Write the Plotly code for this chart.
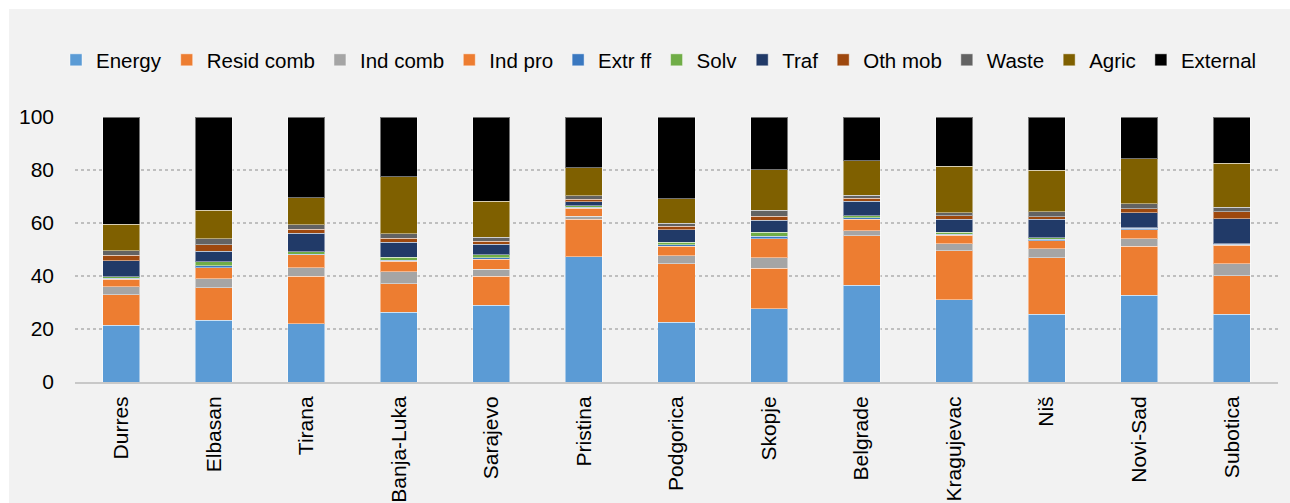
import plotly.graph_objects as go

cities = ["Durres", "Elbasan", "Tirana", "Banja-Luka", "Sarajevo", "Pristina",
          "Podgorica", "Skopje", "Belgrade", "Kragujevac", "Niš", "Novi-Sad", "Subotica"]

energy    = [21.5, 23.3, 22.0, 26.4, 28.9, 47.2, 22.6, 27.7, 36.5, 31.1, 25.5, 32.7, 25.5]
resid     = [11.5, 12.2, 17.9, 10.7, 11.0, 14.3, 22.1, 15.2, 18.7, 18.5, 21.3, 18.5, 14.6]
ind_comb  = [3.0, 3.5, 3.2, 4.5, 2.6, 1.0, 3.0, 4.0, 1.9, 2.5, 3.4, 2.8, 4.6]
ind_pro   = [2.8, 4.1, 4.9, 3.9, 3.9, 3.0, 3.5, 7.1, 4.4, 3.2, 3.1, 3.5, 7.0]
extr_ff   = [0.4, 0.7, 0.3, 0.5, 0.5, 0.5, 0.6, 1.0, 0.5, 0.4, 0.5, 0.5, 0.2]
solv      = [0.6, 1.5, 0.8, 1.0, 1.2, 0.6, 0.9, 1.5, 0.8, 0.8, 0.7, 0.2, 0.3]
traf      = [6.0, 4.1, 7.0, 5.7, 3.8, 1.5, 4.8, 4.5, 5.5, 4.9, 6.9, 5.7, 9.4]
oth_mob   = [2.0, 2.4, 1.5, 1.5, 1.2, 0.8, 1.2, 1.5, 1.0, 1.4, 0.9, 1.4, 2.7]
waste     = [1.7, 2.2, 1.8, 1.8, 1.5, 1.3, 1.3, 2.3, 1.1, 1.0, 1.9, 1.9, 1.6]
agric     = [10.0, 10.8, 10.2, 21.4, 13.6, 10.7, 9.1, 15.3, 13.1, 17.6, 15.7, 17.1, 16.7]
external  = [40.5, 35.2, 30.4, 22.6, 31.8, 19.1, 30.9, 19.9, 16.5, 18.6, 20.1, 15.7, 17.4]

series = [
    ("Energy", energy, "#5B9BD5"),
    ("Resid comb", resid, "#ED7D31"),
    ("Ind comb", ind_comb, "#A5A5A5"),
    ("Ind pro", ind_pro, "#ED7D31"),
    ("Extr ff", extr_ff, "#3A78C0"),
    ("Solv", solv, "#70AD47"),
    ("Traf", traf, "#213A68"),
    ("Oth mob", oth_mob, "#9E480E"),
    ("Waste", waste, "#636363"),
    ("Agric", agric, "#7F6000"),
    ("External", external, "#000000"),
]

FONT = "Liberation Sans"

fig = go.Figure()
for name, vals, color in series:
    fig.add_trace(go.Bar(
        name=name, x=cities, y=vals,
        marker=dict(color=color, line=dict(color="rgba(255,255,255,0.45)", width=1)),
    ))

# plot-area geometry in pixels
W, H = 1290, 503
L, R, T, B = 75, 12, 117, 121
pw, ph = W - L - R, H - T - B

def px_x(p):
    return (p - L) / pw

def px_y(p):
    return (H - B - p) / ph

fig.update_layout(
    width=W, height=H,
    margin=dict(l=L, r=R, t=T, b=B, pad=0, autoexpand=False),
    barmode="stack",
    bargap=0.6,
    paper_bgcolor="white",
    plot_bgcolor="#F2F2F2",
    font=dict(family=FONT, size=21, color="#000000"),
    showlegend=True,
    legend=dict(
        orientation="h", traceorder="normal",
        x=px_x(56), xanchor="left",
        y=px_y(60), yanchor="middle",
        font=dict(family=FONT, size=20.5, color="#000000"),
        bgcolor="rgba(0,0,0,0)",
        itemclick=False,
    ),
    shapes=[dict(
        type="rect", xref="paper", yref="paper", layer="below",
        x0=px_x(9), x1=px_x(W + 20), y0=px_y(H + 20), y1=px_y(9),
        fillcolor="#F2F2F2", line=dict(width=0),
    )],
)

fig.update_yaxes(
    range=[0, 100], tickvals=[0, 20, 40, 60, 80, 100],
    showgrid=True, gridcolor="#BFBFBF", griddash="dot", gridwidth=1.5,
    zeroline=False, showline=False, ticks="", automargin=False,
    ticklabelstandoff=20,
    tickfont=dict(family=FONT, size=21, color="#000000"),
)
fig.update_xaxes(
    tickangle=-90, showgrid=False, ticks="", automargin=False,
    showline=True, linecolor="#C8C8C8", linewidth=2,
    ticklabelstandoff=4,
    tickfont=dict(family=FONT, size=21, color="#000000"),
)

fig.write_html("out.html")
